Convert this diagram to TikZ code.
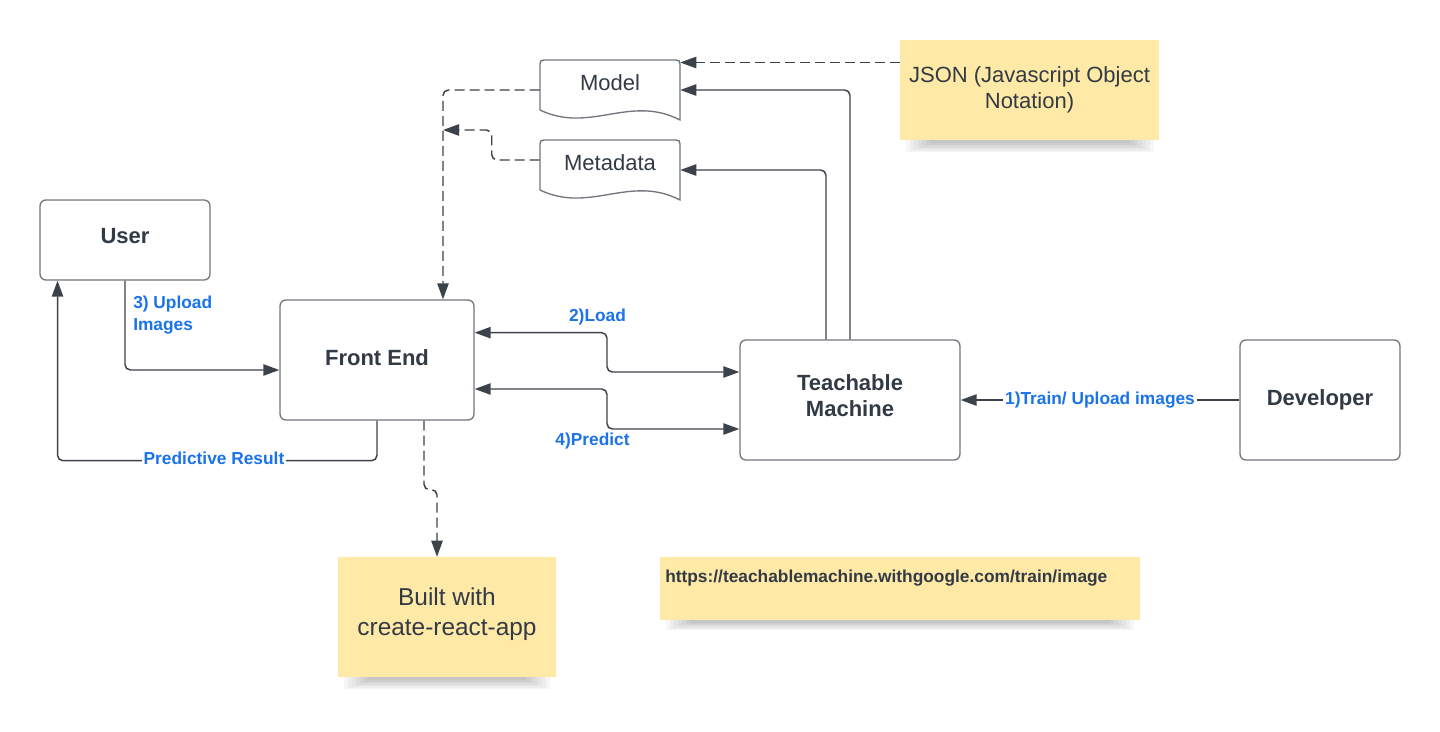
\documentclass[tikz,border=0pt]{standalone}
\usepackage{fontspec}
\setmainfont{Liberation Sans}
\usetikzlibrary{arrows.meta,calc}
\definecolor{boxc}{HTML}{71767D}
\definecolor{linec}{HTML}{3C424A}
\definecolor{txtc}{HTML}{323A45}
\definecolor{bluec}{HTML}{1A73E8}
\definecolor{notec}{HTML}{FFE9A6}
\begin{document}
\begin{tikzpicture}[x=0.75pt,y=-0.75pt,
  box/.style={draw=boxc, line width=1pt, rounded corners=4.5pt, fill=white, text=txtc,
    font=\bfseries\fontsize{16.5pt}{19.5pt}\selectfont, align=center, inner sep=0pt},
  ghost/.style={draw=none, inner sep=0pt},
  doctext/.style={text=txtc, font=\fontsize{16.5pt}{19.5pt}\selectfont, inner sep=0pt},
  note/.style={fill=notec, draw=none, text=txtc, align=center, inner sep=0pt,
    font=\fontsize{16.5pt}{19.5pt}\selectfont},
  urltext/.style={text=txtc, font=\bfseries\fontsize{13pt}{16pt}\selectfont, inner sep=0pt},
  tip/.tip={Triangle[length=12pt,width=8.5pt]},
  conn/.style={draw=linec, line width=1.1pt, rounded corners=4pt, -tip},
  bothconn/.style={draw=linec, line width=1.1pt, rounded corners=4pt, tip-tip},
  dashline/.style={dash pattern=on 7.5pt off 3.75pt},
  lbl/.style={text=bluec, font=\bfseries\fontsize{13pt}{16.5pt}\selectfont, inner sep=1.5pt},
  docline/.style={draw=boxc, line width=1pt, fill=white},
  shadowpiece/.style={fill=black, fill opacity=0.035, draw=none}
]
\useasboundingbox (0,0) rectangle (1440,732);

% ---- soft shadows of notes
\foreach \i in {0,...,6} {
  \fill[shadowpiece] (906+4*\i,140) rectangle (1154-4*\i,152-1.5*\i);
  \fill[shadowpiece] (344+4*\i,677) rectangle (550-4*\i,689-1.5*\i);
  \fill[shadowpiece] (666+4*\i,620) rectangle (1134-4*\i,630-1.2*\i);
}

% ---- notes
\node[note, minimum width=194.25pt, minimum height=75pt] (json) at (1029.5,90)
  {JSON (Javascript Object\\Notation)};
\node[note, minimum width=163.5pt, minimum height=90pt] (built) at (447,617) {};
\node[text=txtc, align=center, inner sep=0pt,
  font=\fontsize{18.3pt}{22.5pt}\selectfont] (builttxt) at (447,614.5)
  {Built with\\create-react-app};
\node[note, minimum width=360pt, minimum height=47.25pt] (url) at (900,588.5) {};
\node[urltext, anchor=west] (urltxt) at (665,578) {https://teachablemachine.withgoogle.com/train/image};

% ---- documents
\draw[docline] (540,110) -- (540,64) .. controls (540,61) and (541,60) .. (544,60)
  -- (676,60) .. controls (679,60) and (680,61) .. (680,64) -- (680,120)
  .. controls (630,94) and (590,134) .. (540,110) -- cycle;
\draw[docline] (540,190) -- (540,144) .. controls (540,141) and (541,140) .. (544,140)
  -- (676,140) .. controls (679,140) and (680,141) .. (680,144) -- (680,200)
  .. controls (630,174) and (590,214) .. (540,190) -- cycle;
\node[ghost, minimum width=105pt, minimum height=45pt] (model) at (610,90) {};
\node[ghost, minimum width=105pt, minimum height=45pt] (metadata) at (610,170) {};
\node[doctext] (modeltxt) at (610,83) {Model};
\node[doctext] (metatxt) at (610,163) {Metadata};

% ---- boxes
\node[box, minimum width=127.5pt, minimum height=60pt] (user) at (125,240) {};
\node[text=txtc, font=\bfseries\fontsize{16.5pt}{19.5pt}\selectfont, inner sep=0pt] (usertxt) at (125,236) {User};
\node[box, minimum width=145.5pt, minimum height=90pt] (fe) at (377,360) {};
\node[text=txtc, font=\bfseries\fontsize{16.5pt}{19.5pt}\selectfont, inner sep=0pt] (fetxt) at (377,358) {Front End};
\node[box, minimum width=165pt, minimum height=90pt] (tm) at (850,400) {};
\node[text=txtc, align=center, font=\bfseries\fontsize{16.5pt}{19.5pt}\selectfont, inner sep=0pt] (tmtxt) at (850,396) {Teachable\\Machine};
\node[box, minimum width=120pt, minimum height=90pt] (dev) at (1320,400) {Developer};

% ---- helper coordinates
\coordinate (jy) at (0,62.5);
\coordinate (mj) at (443,130);
\coordinate (mid) at ($(fe.east)!0.5!(tm.west)$);
\coordinate (la) at ([yshift=20.5pt]fe.east);
\coordinate (lb) at ([yshift=21pt]tm.west);
\coordinate (pa) at ([yshift=-21.75pt]fe.east);
\coordinate (pb) at ([yshift=-21.75pt]tm.west);
\coordinate (bs) at ([xshift=35.25pt]fe.south);

% ---- connectors
\draw[conn, dashline] (json.west |- jy) -- (model.east |- jy);
\draw[conn] (tm.north) |- (model.east);
\draw[conn] ([xshift=-18pt]tm.north) |- (metadata.east);
\draw[conn, dashline] (model.west) -| ([xshift=49.5pt]fe.north);
\draw[conn, dashline] ([yshift=7.5pt]metadata.west) -- ++(-48,0) |- (mj);
\draw[conn] (user.south) |- ([yshift=-7.5pt]fe.west);
\draw[conn] (fe.south) -- ++(0,40) -| ([xshift=-50.6pt]user.south);
\draw[bothconn] (la) -- (la -| mid) -- (lb -| mid) -- (lb);
\draw[bothconn] (pa) -- (pa -| mid) -- (pb -| mid) -- (pb);
\draw[conn] (dev.west) -- (tm.east) node[lbl, fill=white, pos=0.5] {1)Train/ Upload images};
\draw[conn, dashline] (bs) -- ++(0,69) -| ([xshift=-7.5pt]built.north);

% ---- labels
\node[lbl, align=left, anchor=west] (lupload) at (131,315) {3) Upload\\Images};
\node[lbl, fill=white] (lpred) at (214,458) {Predictive Result};
\node[lbl] (lload) at (597.5,317.5) {2)Load};
\node[lbl] (lpredict) at (592.5,441.5) {4)Predict};
\end{tikzpicture}
\end{document}
